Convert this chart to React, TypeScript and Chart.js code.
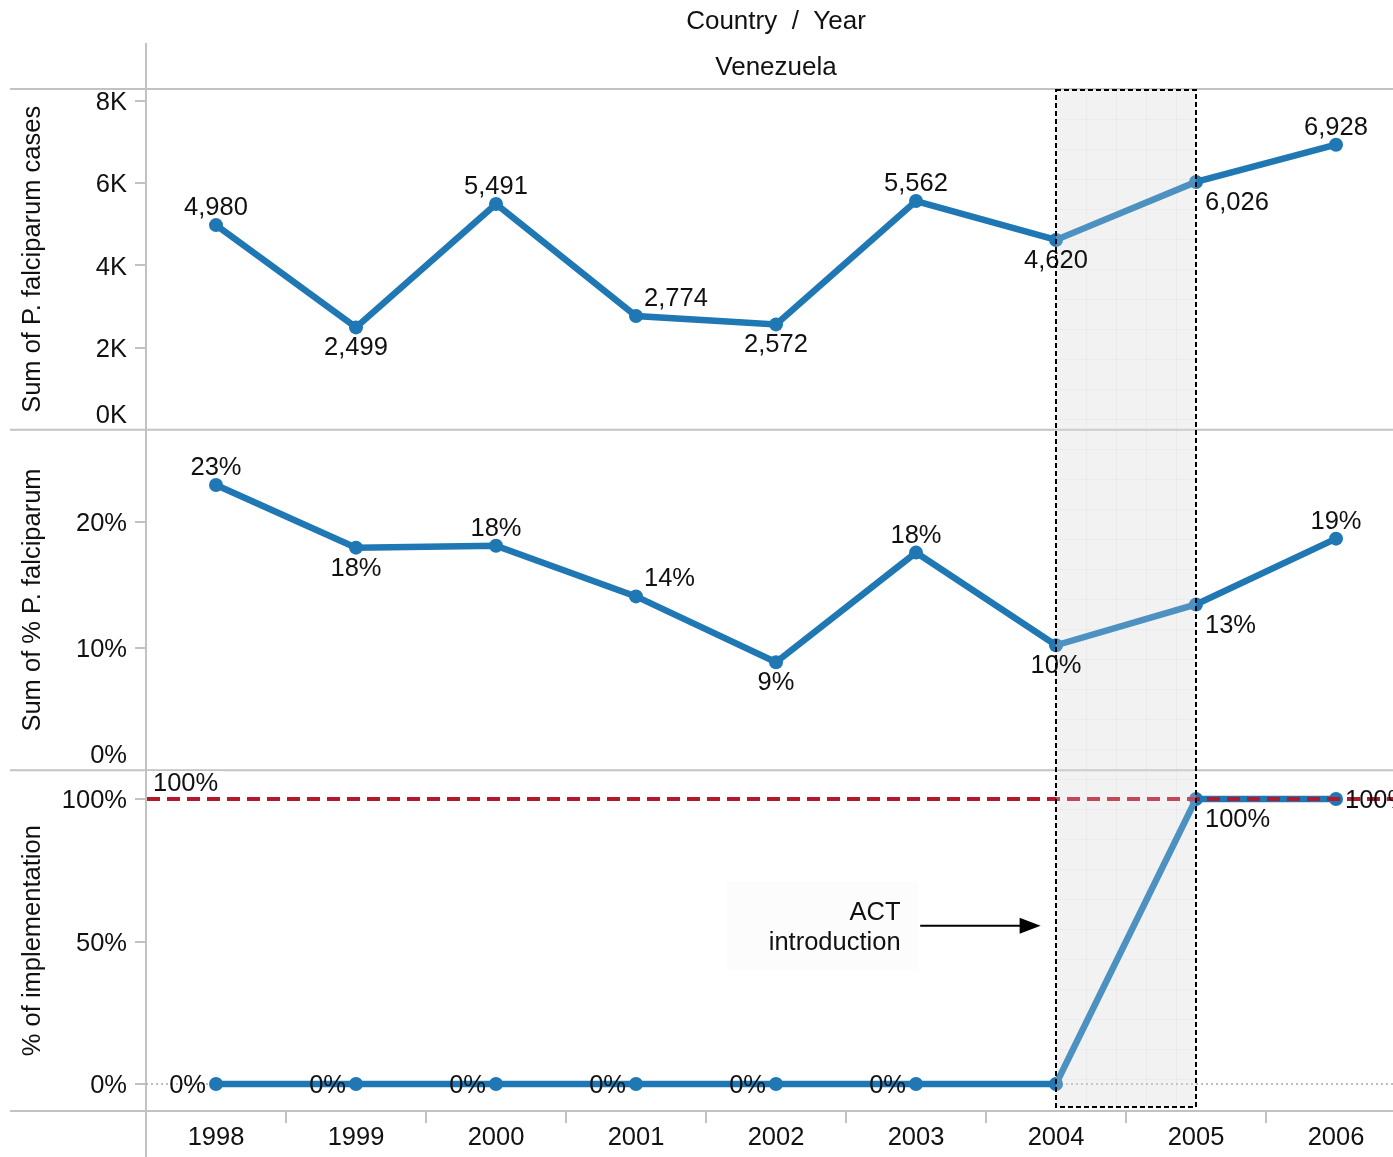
import React, { useEffect, useRef } from "react";
import { Chart, registerables } from "chart.js";

Chart.register(...registerables);

// ---------------- data ----------------
const YEARS = [1998, 1999, 2000, 2001, 2002, 2003, 2004, 2005, 2006];
const CASES = [4980, 2499, 5491, 2774, 2572, 5562, 4620, 6026, 6928];
const PCT_FALCIPARUM = [22.9, 17.95, 18.1, 14.1, 8.9, 17.56, 10.24, 13.46, 18.66];
const IMPLEMENTATION = [0, 0, 0, 0, 0, 0, 0, 100, 100];
const CASES_TICKS = [0, 2000, 4000, 6000, 8000];
const PCT_TICKS = [0, 10, 20];
const IMPL_TICKS = [0, 50, 100];
const TARGET_LINE = 100;
const ACT_PERIOD = [2004, 2005];
const HEADER_TITLE = "Country  /  Year";
const COUNTRY = "Venezuela";
const AXIS_TITLES = ["Sum of P. falciparum cases", "Sum of % P. falciparum", "% of implementation"];
const ANNOTATION_LINES = ["ACT", "introduction"];

// ---------------- style ----------------
const FAMILY = "'Liberation Sans', Arial, Helvetica, sans-serif";
const FS = 25.5;
const TEXT = "#111";
const FRAME = "#c2c2c2";
const BLUE = "#1f77b4";
const RED = "#b5182c";
const AXIS_W = 146;
const W = 1393;
const H = 1157;
const TY = 2; // canvas 'middle' baseline sits a bit high; nudge text down

const fmtK = (v: number) => `${Math.round(v / 1000)}K`;
const fmtPct = (v: number) => `${Math.round(v)}%`;
const fmtNum = (v: number) => v.toLocaleString("en-US");

// label placement per point (above / below / above-right / below-right / left / right / none)
const PLACE_CASES = ["a", "b", "a", "ar", "b", "a", "b", "br", "a"];
const PLACE_PCT = ["a", "b", "a", "ar", "b", "a", "b", "br", "a"];
const PLACE_IMPL = ["l", "l", "l", "l", "l", "l", "", "br", "r"];

function yAxis(title: string, min: number, max: number, tickValues: number[], fmt: (v: number) => string, hideFirstMark: boolean) {
  return {
    type: "linear",
    position: "left",
    stack: "panels",
    stackWeight: 1,
    min,
    max,
    afterBuildTicks: (s: any) => {
      s.ticks = tickValues.map((v) => ({ value: Math.max(v, min) }));
    },
    afterFit: (s: any) => {
      s.width = AXIS_W;
    },
    grid: {
      drawOnChartArea: false,
      drawTicks: true,
      tickLength: 11,
      lineWidth: 2,
      color: (c: any) => (hideFirstMark && c.index === 0 ? "rgba(0,0,0,0)" : FRAME),
    },
    border: { display: false },
    ticks: {
      autoSkip: false,
      font: { size: FS, family: FAMILY, lineHeight: "4px" },
      color: TEXT,
      padding: 8,
      callback: (v: number, i: number) => {
        const t = fmt(tickValues[i]);
        // clamped bottom label sits inside the pane; others nudged 2px down
        return v > tickValues[i] ? [t, "", "", "", "", "", "", ""] : ["", t];
      },
    },
    title: {
      display: true,
      text: title,
      font: { size: FS, family: FAMILY },
      color: TEXT,
      padding: { top: 18, bottom: 0 },
    },
  };
}

const decorPlugin = {
  id: "decor",
  beforeDatasetsDraw(chart: any) {
    const { ctx, chartArea: a, scales } = chart;
    const xs = scales.x;
    const x0 = xs.getPixelForValue(ACT_PERIOD[0]);
    const x1 = xs.getPixelForValue(ACT_PERIOD[1]);
    const boxBottom = a.bottom - 4;
    ctx.save();
    // highlight background
    ctx.fillStyle = "#f3f3f3";
    ctx.fillRect(x0, a.top, x1 - x0, boxBottom - a.top);
    ctx.strokeStyle = "rgba(0,0,0,0.035)";
    ctx.lineWidth = 1;
    for (let gx = x0 + 30; gx < x1; gx += 30) {
      ctx.beginPath();
      ctx.moveTo(gx + 0.5, a.top);
      ctx.lineTo(gx + 0.5, boxBottom);
      ctx.stroke();
    }
    for (let gy = a.top + 30; gy < boxBottom; gy += 30) {
      ctx.beginPath();
      ctx.moveTo(x0, gy + 0.5);
      ctx.lineTo(x1, gy + 0.5);
      ctx.stroke();
    }
    // frame lines
    ctx.strokeStyle = FRAME;
    ctx.lineWidth = 2;
    const hs = [a.top, scales.yCases.bottom, scales.yPct.bottom, a.bottom];
    hs.forEach((y: number) => {
      ctx.beginPath();
      ctx.moveTo(10, y);
      ctx.lineTo(chart.width, y);
      ctx.stroke();
    });
    ctx.beginPath();
    ctx.moveTo(a.left, 43);
    ctx.lineTo(a.left, chart.height);
    ctx.stroke();
    // x-axis boundary tick marks
    for (let i = 0; i < YEARS.length - 1; i++) {
      const bx = xs.getPixelForValue((YEARS[i] + YEARS[i + 1]) / 2);
      ctx.beginPath();
      ctx.moveTo(bx, a.bottom);
      ctx.lineTo(bx, a.bottom + 12);
      ctx.stroke();
    }
    // zero line in implementation panel
    const yz = scales.yImpl.getPixelForValue(0);
    ctx.strokeStyle = "#a8a8a8";
    ctx.lineWidth = 1.5;
    ctx.setLineDash([2, 3]);
    ctx.beginPath();
    ctx.moveTo(a.left, yz);
    ctx.lineTo(a.right, yz);
    ctx.stroke();
    ctx.setLineDash([]);
    // header
    const cx = (xs.getPixelForValue(YEARS[0] - 0.5) + xs.getPixelForValue(YEARS[YEARS.length - 1] + 0.5)) / 2;
    ctx.fillStyle = TEXT;
    ctx.font = `26px ${FAMILY}`;
    ctx.textAlign = "center";
    ctx.textBaseline = "middle";
    ctx.fillText(HEADER_TITLE, cx, 20 + TY);
    ctx.fillText(COUNTRY, cx, 66 + TY);
    ctx.restore();
  },
  afterDatasetsDraw(chart: any) {
    const { ctx, chartArea: a, scales } = chart;
    const xs = scales.x;
    const yi = scales.yImpl;
    const x0 = xs.getPixelForValue(ACT_PERIOD[0]);
    const x1 = xs.getPixelForValue(ACT_PERIOD[1]);
    const boxBottom = a.bottom - 4;
    ctx.save();
    // target reference line
    const yt = yi.getPixelForValue(TARGET_LINE);
    ctx.strokeStyle = RED;
    ctx.lineWidth = 4;
    ctx.setLineDash([13, 7]);
    ctx.beginPath();
    ctx.moveTo(a.left + 1, yt);
    ctx.lineTo(a.right, yt);
    ctx.stroke();
    ctx.setLineDash([]);
    // highlight overlay (lightens marks inside)
    ctx.fillStyle = "rgba(243,243,243,0.22)";
    ctx.fillRect(x0, a.top, x1 - x0, boxBottom - a.top);
    // reference label
    ctx.font = `${FS}px ${FAMILY}`;
    ctx.fillStyle = "rgba(255,255,255,0.9)";
    ctx.fillRect(a.left + 1, yt - 28, 76, 21);
    ctx.fillStyle = TEXT;
    ctx.textAlign = "left";
    ctx.textBaseline = "middle";
    ctx.fillText(fmtPct(TARGET_LINE), a.left + 7, yt - 17 + TY);

    // data labels
    const groups = [
      { di: 0, values: CASES, fmt: fmtNum, place: PLACE_CASES },
      { di: 1, values: PCT_FALCIPARUM, fmt: fmtPct, place: PLACE_PCT },
      { di: 2, values: IMPLEMENTATION, fmt: fmtPct, place: PLACE_IMPL },
    ];
    groups.forEach((g) => {
      const meta = chart.getDatasetMeta(g.di);
      meta.data.forEach((pt: any, i: number) => {
        const p = g.place[i];
        if (!p) return;
        const t = g.fmt(g.values[i]);
        let tx = pt.x;
        let ty = pt.y + TY;
        let al = "center";
        if (p === "a") ty -= 19;
        else if (p === "b") ty += 19;
        else if (p === "ar") { tx += 8; ty -= 19; al = "left"; }
        else if (p === "br") { tx += 9; ty += 19; al = "left"; }
        else if (p === "l") { tx -= 10; al = "right"; }
        else if (p === "r") { tx += 9; al = "left"; }
        ctx.textAlign = al;
        ctx.fillStyle = TEXT;
        ctx.fillText(t, tx, ty);
      });
    });

    // annotation
    const ay = yi.getPixelForValue(55.5);
    const tip = xs.getPixelForValue(2003.89);
    const tail = xs.getPixelForValue(2003.03);
    const textRight = xs.getPixelForValue(2002.89);
    const boxL = xs.getPixelForValue(2001.65);
    ctx.fillStyle = "rgba(246,246,246,0.35)";
    ctx.fillRect(boxL, ay - 44, tail - 2 - boxL, 88);
    ctx.fillStyle = TEXT;
    ctx.textAlign = "right";
    ctx.fillText(ANNOTATION_LINES[0], textRight, ay - 15 + TY);
    ctx.fillText(ANNOTATION_LINES[1], textRight, ay + 15 + TY);
    ctx.strokeStyle = "#000";
    ctx.lineWidth = 2;
    ctx.beginPath();
    ctx.moveTo(tail, ay);
    ctx.lineTo(tip - 18, ay);
    ctx.stroke();
    ctx.fillStyle = "#000";
    ctx.beginPath();
    ctx.moveTo(tip, ay);
    ctx.lineTo(tip - 21, ay - 8);
    ctx.lineTo(tip - 21, ay + 8);
    ctx.closePath();
    ctx.fill();

    // dashed highlight border
    ctx.strokeStyle = "#000";
    ctx.lineWidth = 2;
    ctx.setLineDash([5, 3]);
    ctx.strokeRect(x0, a.top + 1, x1 - x0, boxBottom - a.top - 1);
    ctx.restore();
  },
};

export default function App() {
  const ref = useRef<HTMLCanvasElement>(null);

  useEffect(() => {
    document.body.style.margin = "0";
    const canvas = ref.current;
    if (!canvas) return;
    const mk = (vals: number[]) => YEARS.map((y, i) => ({ x: y, y: vals[i] }));
    const lineStyle = {
      borderColor: BLUE,
      backgroundColor: BLUE,
      borderWidth: 6.5,
      pointRadius: 7,
      pointBorderWidth: 0,
      pointBackgroundColor: BLUE,
      tension: 0,
    };
    const chart = new Chart(canvas, {
      type: "line",
      data: {
        datasets: [
          { label: AXIS_TITLES[0], data: mk(CASES), yAxisID: "yCases", xAxisID: "x", ...lineStyle },
          { label: AXIS_TITLES[1], data: mk(PCT_FALCIPARUM), yAxisID: "yPct", xAxisID: "x", ...lineStyle },
          { label: AXIS_TITLES[2], data: mk(IMPLEMENTATION), yAxisID: "yImpl", xAxisID: "x", ...lineStyle },
        ],
      },
      options: {
        responsive: false,
        animation: false,
        devicePixelRatio: 1,
        events: [],
        layout: { padding: { top: 89, left: 0, right: 0, bottom: 0 }, autoPadding: false },
        plugins: { legend: { display: false }, tooltip: { enabled: false }, title: { display: false } },
        scales: {
          x: {
            type: "linear",
            position: "bottom",
            min: YEARS[0] - 0.5,
            max: YEARS[0] - 0.5 + (W - AXIS_W) / 140,
            afterBuildTicks: (s: any) => {
              s.ticks = YEARS.map((v) => ({ value: v }));
            },
            afterFit: (s: any) => {
              s.height = 46;
            },
            grid: { display: false, drawTicks: false },
            border: { display: false },
            ticks: {
              autoSkip: false,
              maxRotation: 0,
              font: { size: FS, family: FAMILY },
              color: TEXT,
              padding: 12,
              callback: (v: number) => String(v),
            },
          },
          yImpl: yAxis(AXIS_TITLES[2], -9.47, 110.06, IMPL_TICKS, fmtPct, false),
          yPct: yAxis(AXIS_TITLES[1], 0.36, 27.27, PCT_TICKS, fmtPct, true),
          yCases: yAxis(AXIS_TITLES[0], 20, 8279, CASES_TICKS, fmtK, true),
        } as any,
      } as any,
      plugins: [decorPlugin as any],
    });
    return () => chart.destroy();
  }, []);

  return <canvas ref={ref} width={W} height={H} style={{ display: "block", width: W, height: H }} />;
}
